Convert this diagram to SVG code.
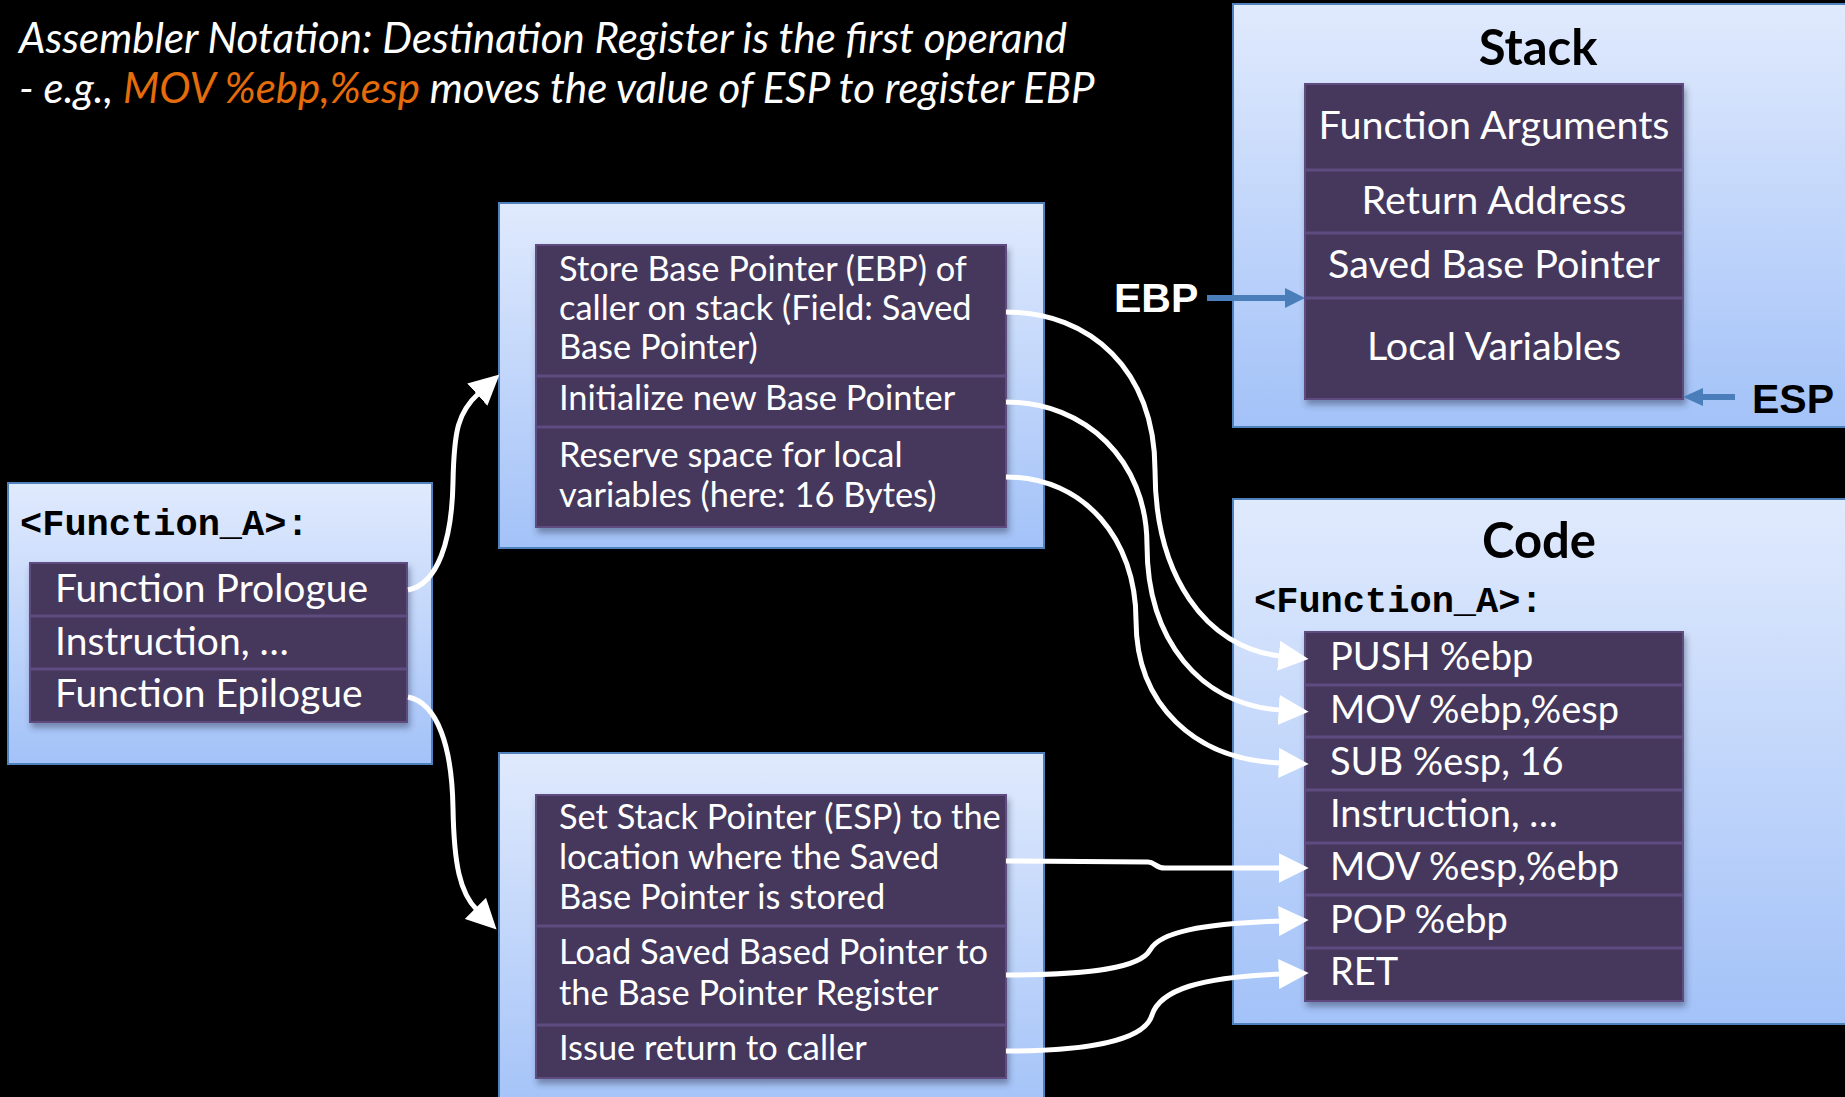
<svg xmlns="http://www.w3.org/2000/svg" width="1845" height="1097" viewBox="0 0 1845 1097">
<defs>
<linearGradient id="pg" x1="0" y1="0" x2="0" y2="1">
<stop offset="0" stop-color="#e0eafd"/>
<stop offset="1" stop-color="#a3c2f8"/>
</linearGradient>
<filter id="sh" x="-5%" y="-5%" width="110%" height="115%">
<feDropShadow dx="2" dy="5" stdDeviation="3" flood-color="#2a3550" flood-opacity="0.45"/>
</filter>
<marker id="wa" markerUnits="userSpaceOnUse" markerWidth="30" markerHeight="30" viewBox="0 0 26 26" refX="2" refY="13" orient="auto">
<path d="M0,0 L26,13 L0,26 z" fill="#ffffff"/>
</marker>
</defs>
<style>
.panel{fill:url(#pg);stroke:#4f81bd;stroke-width:2}
.list{fill:#45395b;stroke:#5e4b80;stroke-width:2}
.div{stroke:#5e4b80;stroke-width:3}
.t{font-family:Lato,"Open Sans",sans-serif;font-size:38px;fill:#ffffff}
.l{font-size:39px}
.s{font-size:39.5px}
.m{font-size:34.4px}
.hd{font-family:Lato,"Open Sans",sans-serif;font-style:italic;font-size:42px;fill:#ffffff}
.ttl{font-family:Lato,"Open Sans",sans-serif;font-weight:bold;font-size:49px;fill:#000000;text-anchor:middle}
.mono{font-family:"Liberation Mono","Courier New",monospace;font-weight:bold;font-size:37px;fill:#000000}
.reg{font-family:"Liberation Sans",Arial,sans-serif;font-weight:bold;font-size:41px}
.conn{fill:none;stroke:#ffffff;stroke-width:5;marker-end:url(#wa)}
</style>
<rect width="1845" height="1097" fill="#000000"/>

<g id="header">
<text class="hd" x="19" y="53">Assembler Notation: Destination Register is the first operand</text>
<text class="hd" x="19" y="103">- e.g., <tspan fill="#e46c0a">MOV %ebp,%esp</tspan> moves the value of ESP to register EBP</text>
</g>

<g id="function-a">
<rect class="panel" x="8" y="483" width="424" height="281"/>
<text class="mono" x="20" y="535">&lt;Function_A&gt;:</text>
<rect class="list" x="30" y="563" width="377" height="159" filter="url(#sh)"/>
<line class="div" x1="30" y1="616" x2="407" y2="616"/>
<line class="div" x1="30" y1="669" x2="407" y2="669"/>
<text class="t l" x="55" y="602">Function Prologue</text>
<text class="t l" x="55" y="655">Instruction, …</text>
<text class="t l" x="55" y="707">Function Epilogue</text>
</g>

<g id="prologue">
<rect class="panel" x="499" y="203" width="545" height="345"/>
<rect class="list" x="536" y="245" width="470" height="282" filter="url(#sh)"/>
<line class="div" x1="536" y1="376" x2="1006" y2="376"/>
<line class="div" x1="536" y1="427" x2="1006" y2="427"/>
<text class="t m" x="559" y="281">Store Base Pointer (EBP) of</text>
<text class="t m" x="559" y="320">caller on stack (Field: Saved</text>
<text class="t m" x="559" y="359">Base Pointer)</text>
<text class="t m" x="559" y="410">Initialize new Base Pointer</text>
<text class="t m" x="559" y="467">Reserve space for local</text>
<text class="t m" x="559" y="507">variables (here: 16 Bytes)</text>
</g>

<g id="epilogue">
<rect class="panel" x="499" y="753" width="545" height="365"/>
<rect class="list" x="536" y="795" width="470" height="283" filter="url(#sh)"/>
<line class="div" x1="536" y1="926" x2="1006" y2="926"/>
<line class="div" x1="536" y1="1025" x2="1006" y2="1025"/>
<text class="t m" x="559" y="829">Set Stack Pointer (ESP) to the</text>
<text class="t m" x="559" y="869">location where the Saved</text>
<text class="t m" x="559" y="909">Base Pointer is stored</text>
<text class="t m" x="559" y="964">Load Saved Based Pointer to</text>
<text class="t m" x="559" y="1005">the Base Pointer Register</text>
<text class="t m" x="559" y="1060">Issue return to caller</text>
</g>

<g id="stack">
<rect class="panel" x="1233" y="4" width="620" height="423"/>
<text class="ttl" x="1538" y="65">Stack</text>
<rect class="list" x="1305" y="84" width="378" height="315" filter="url(#sh)"/>
<line class="div" x1="1305" y1="170" x2="1683" y2="170"/>
<line class="div" x1="1305" y1="233" x2="1683" y2="233"/>
<line class="div" x1="1305" y1="298" x2="1683" y2="298"/>
<text class="t s" x="1494" y="139" text-anchor="middle">Function Arguments</text>
<text class="t s" x="1494" y="214" text-anchor="middle">Return Address</text>
<text class="t s" x="1494" y="278" text-anchor="middle">Saved Base Pointer</text>
<text class="t s" x="1494" y="360" text-anchor="middle">Local Variables</text>
</g>

<g id="code">
<rect class="panel" x="1233" y="499" width="620" height="525"/>
<text class="ttl" x="1539" y="558">Code</text>
<text class="mono" x="1254" y="612">&lt;Function_A&gt;:</text>
<rect class="list" x="1305" y="632" width="378" height="369" filter="url(#sh)"/>
<line class="div" x1="1305" y1="685" x2="1683" y2="685"/>
<line class="div" x1="1305" y1="737" x2="1683" y2="737"/>
<line class="div" x1="1305" y1="790" x2="1683" y2="790"/>
<line class="div" x1="1305" y1="843" x2="1683" y2="843"/>
<line class="div" x1="1305" y1="895" x2="1683" y2="895"/>
<line class="div" x1="1305" y1="948" x2="1683" y2="948"/>
<text class="t" x="1330" y="670">PUSH %ebp</text>
<text class="t" x="1330" y="723">MOV %ebp,%esp</text>
<text class="t" x="1330" y="775">SUB %esp, 16</text>
<text class="t" x="1330" y="827">Instruction, …</text>
<text class="t" x="1330" y="880">MOV %esp,%ebp</text>
<text class="t" x="1330" y="933">POP %ebp</text>
<text class="t" x="1330" y="985">RET</text>
</g>

<g id="ebp-label">
<text class="reg" x="1114" y="312" fill="#ffffff">EBP</text>
</g>
<g id="esp-label">
<text class="reg" x="1752" y="413" fill="#000000">ESP</text>
</g>

<g id="connectors">
<path class="conn" d="M408,590 C438,584 452,540 453,482 C454,430 458,412 479,393"/>
<path class="conn" d="M408,697 C438,703 452,748 453,808 C454,865 460,893 477,910"/>
<path class="conn" d="M1006,312 C1090,312 1155,370 1155,470 C1155,575 1205,648 1281,656"/>
<path class="conn" d="M1006,402 C1085,402 1147,460 1147,545 C1147,640 1200,705 1281,710"/>
<path class="conn" d="M1006,477 C1085,477 1136,540 1136,620 C1136,705 1195,760 1281,763"/>
<path class="conn" d="M1006,861 L1148,862 C1155,862 1155,868 1165,868 L1281,868"/>
<path class="conn" d="M1006,975 C1090,975 1140,968 1150,950 C1160,932 1200,924 1281,921"/>
<path class="conn" d="M1006,1051 C1090,1051 1145,1040 1152,1015 C1160,990 1200,977 1281,974"/>
<line x1="1207" y1="298" x2="1288" y2="298" stroke="#4a7ebb" stroke-width="6"/>
<polygon points="1285,288 1305,298 1285,308" fill="#4a7ebb"/>
<line x1="1735" y1="397" x2="1700" y2="397" stroke="#4a7ebb" stroke-width="6"/>
<polygon points="1703,388 1683,397 1703,406" fill="#4a7ebb"/>
</g>
</svg>
